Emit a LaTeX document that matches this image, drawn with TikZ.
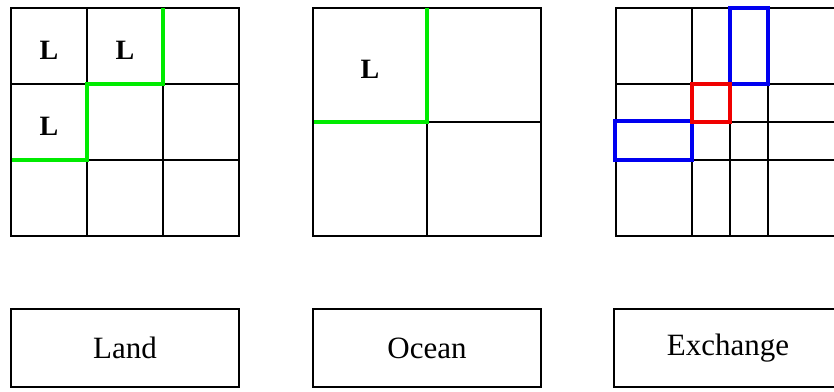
\documentclass[tikz,border=0pt]{standalone}
\usepackage{fontspec}
\setmainfont{Liberation Serif}
\begin{document}
\begin{tikzpicture}[x=1pt,y=-1pt,
  gridline/.style={black,line width=1.2pt},
  greenline/.style={draw={rgb,255:red,0;green,235;blue,0},line width=3.3pt},
  bluebox/.style={draw={rgb,255:red,0;green,0;blue,240},line width=4pt},
  redbox/.style={draw={rgb,255:red,240;green,0;blue,0},line width=4pt},
  cellL/.style={font=\bfseries\fontsize{28}{32}\selectfont,inner sep=0pt},
  labelbox/.style={draw,line width=1.2pt,minimum width=228pt,minimum height=78pt,font=\fontsize{31}{36}\selectfont,inner sep=0pt}]
\clip (0,0) rectangle (834,391);
\fill[white] (0,0) rectangle (834,391);
% Land grid
\draw[gridline] (11,8) rectangle (239,236);
\draw[gridline] (87,8) -- (87,236) (163,8) -- (163,236) (11,84) -- (239,84) (11,160) -- (239,160);
\draw[greenline] (163,8) -- (163,84) -- (87,84) -- (87,160) -- (12,160);
\node[cellL] (l1) at (49,50) {L};
\node[cellL] (l2) at (125,50) {L};
\node[cellL] (l3) at (49,126) {L};
% Ocean grid
\draw[gridline] (313,8) rectangle (541,236);
\draw[gridline] (427,8) -- (427,236) (313,122) -- (541,122);
\draw[greenline] (427,8) -- (427,122) -- (314,122);
\node[cellL] (l4) at (370,69) {L};
% Exchange grid
\draw[gridline] (616,8) rectangle (844,236);
\draw[gridline] (692,8) -- (692,236) (730,8) -- (730,236) (768,8) -- (768,236)
  (616,84) -- (844,84) (616,122) -- (844,122) (616,160) -- (844,160);
\draw[bluebox] (730,8) rectangle (768,84);
\draw[bluebox] (615,121) rectangle (692,160);
\draw[redbox] (692,84) rectangle (730,122);
% Labels
\node[labelbox] (land) at (125,348) {Land};
\node[labelbox] (ocean) at (427,348) {Ocean};
\node[labelbox] (exch) at (728,348) {Exchange};
\end{tikzpicture}
\end{document}
